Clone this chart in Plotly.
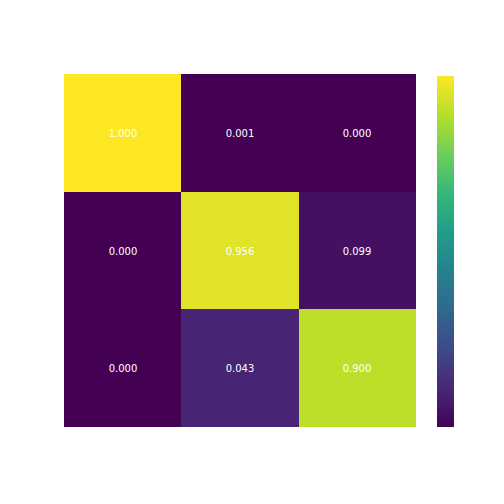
import plotly.graph_objects as go

x_labels = ["0", "1", "2"]
y_labels = ["0", "1", "2"]
# values shown as cell labels (rows top to bottom)
values = [
    [1.000, 0.001, 0.000],
    [0.000, 0.956, 0.099],
    [0.000, 0.043, 0.900],
]
text = [[f"{v:.3f}" for v in row] for row in values]
# the cell colours in the reference follow the transposed matrix
color_values = [list(col) for col in zip(*values)]

fig = go.Figure(go.Heatmap(
    z=color_values, x=x_labels, y=y_labels,
    text=text, texttemplate="%{text}",
    textfont=dict(color="white", size=10, family="DejaVu Sans"),
    colorscale="Viridis", zmin=0, zmax=1,
    xgap=0, ygap=0,
    colorbar=dict(
        x=(437 - 64) / 352, xanchor="left", xpad=0,
        y=0, yanchor="bottom", ypad=0,
        len=351 / 353, lenmode="fraction",
        thickness=17, outlinewidth=0, showticklabels=False, ticks="",
    ),
))
fig.update_layout(
    width=504, height=504,
    margin=dict(l=56, r=96, t=66, b=85),
    paper_bgcolor="white", plot_bgcolor="white",
    xaxis=dict(visible=False, showgrid=False, zeroline=False),
    yaxis=dict(visible=False, showgrid=False, zeroline=False, autorange="reversed"),
)
fig.write_html("out.html")
